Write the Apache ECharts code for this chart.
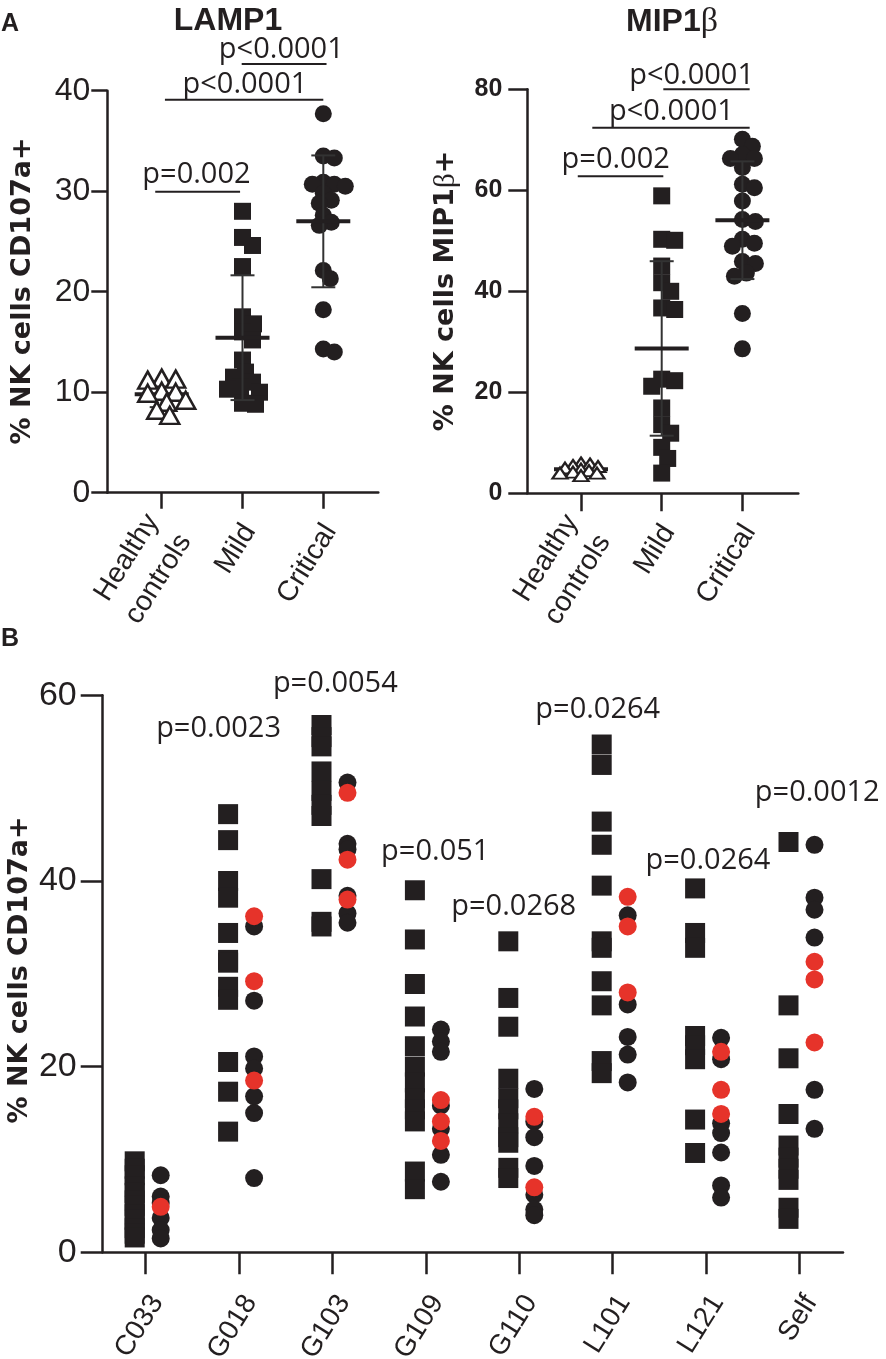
<!DOCTYPE html>
<html>
<head>
<meta charset="utf-8">
<script src="https://cdn.jsdelivr.net/npm/echarts@6.0.0/dist/echarts.min.js"></script>
<style>
html, body { margin: 0; padding: 0; background: #fff; }
#chart { width: 886px; height: 1359px; }
</style>
</head>
<body>
<div id="chart"></div>
<script>
// ---- values ----
var groupsA = ['Healthy\ncontrols', 'Mild', 'Critical'];

var lampHealthy = [11.4, 11.2, 11.3, 10.1, 9.9, 10.0, 9.2, 9.0, 7.7, 8.2];
var lampMild = [28.0, 25.4, 24.6, 22.5, 17.5, 16.8, 16.0, 15.2, 13.2, 12.0, 11.0, 10.3, 10.5, 10.0, 8.8, 8.9, 11.5];
var lampCritical = [37.7, 33.3, 33.5, 30.7, 30.9, 30.5, 30.7, 29.8, 29.1, 28.8, 27.6, 26.6, 26.9, 22.1, 21.3, 18.2, 14.0, 14.3];

var mipHealthy = [5.0, 6.0, 5.8, 5.5, 5.3, 4.8, 4.0, 3.5, 4.2, 4.0, 4.5];
var mipMild = [58.9, 50.3, 50.1, 45.0, 41.7, 40.0, 36.4, 36.7, 21.2, 22.3, 22.6, 16.9, 13.6, 11.9, 9.1, 6.9, 4.0];
var mipCritical = [70.1, 68.7, 67.1, 66.3, 66.3, 64.5, 61.2, 60.5, 57.9, 54.2, 53.8, 50.3, 48.9, 49.5, 45.9, 45.5, 43.0, 43.6, 35.6, 28.6];

// brackets: [from, to, level]
var lampBrackets = [[-0.08, 0.97, 29.95], [0.04, 2.0, 39.1], [0.99, 2.04, 42.65]];
var lampPText = ['p=0.002', 'p<0.0001', 'p<0.0001'];
var lampPAt = [[0.43, 31.6], [1.03, 40.6], [1.48, 44.05]];

var mipBrackets = [[-0.04, 1.02, 62.8], [0.14, 2.09, 72.4], [1.02, 2.09, 80.0]];
var mipPText = ['p=0.002', 'p<0.0001', 'p<0.0001'];
var mipPAt = [[0.43, 66.0], [1.12, 75.5], [1.37, 82.7]];

var bCats = ['C033', 'G018', 'G103', 'G109', 'G110', 'L101', 'L121', 'Self'];
var bSquares = [
	[9.8, 9.0, 8.3, 7.1, 6.4, 5.6, 5.0, 4.1, 3.5, 2.6, 2.0, 1.6],
	[47.2, 44.4, 40.0, 38.2, 34.4, 31.5, 31.2, 28.6, 27.2, 20.5, 17.3, 13.0],
	[56.8, 55.5, 54.5, 51.8, 49.7, 48.2, 47.0, 40.2, 35.6, 35.1],
	[39.0, 33.7, 28.9, 25.4, 22.2, 20.0, 18.3, 16.6, 15.4, 14.1, 8.7, 6.8],
	[33.5, 27.4, 24.3, 18.7, 16.6, 15.4, 13.9, 12.4, 11.8, 9.1, 8.0],
	[54.7, 52.5, 46.4, 43.9, 39.5, 33.5, 32.8, 29.2, 26.6, 20.6, 19.3],
	[39.2, 34.4, 32.8, 23.3, 22.3, 20.8, 14.3, 10.7],
	[44.2, 26.6, 20.9, 14.9, 11.5, 10.2, 9.0, 7.8, 4.8, 3.6]
];
var bBlack = [
	[8.3, 6.0, 5.3, 3.7, 2.4, 1.5],
	[35.1, 27.1, 21.1, 19.8, 16.8, 15.0, 8.0],
	[50.6, 44.0, 43.4, 38.4, 36.5, 35.5],
	[24.0, 22.7, 21.6, 15.8, 13.3, 10.5, 7.6],
	[17.6, 14.1, 12.4, 9.3, 6.2, 4.6, 4.0],
	[36.3, 26.7, 23.2, 21.3, 18.3],
	[23.1, 20.8, 13.9, 12.85, 10.75, 7.2, 5.9],
	[43.9, 38.2, 36.9, 33.9, 17.5, 13.3]
];
var bRed = [
	[4.9],
	[36.2, 29.2, 18.5],
	[49.5, 42.3, 38.0],
	[16.4, 14.1, 12.0],
	[14.6, 7.0],
	[38.3, 35.1, 28.0],
	[21.6, 17.5, 14.9],
	[31.3, 29.4, 22.6]
];
var bPText = ['p=0.0023', 'p=0.0054', 'p=0.051', 'p=0.0268', 'p=0.0264', 'p=0.0264', 'p=0.0012'];
var bPAt = [[0.78, 56.4], [2.03, 61.2], [3.10, 43.2], [3.94, 37.25], [4.84, 58.5], [6.02, 42.2], [7.19, 49.5]];

// ---- layout (pixels) ----
var INK = '#231f20';
var RED = '#e6332a';
var LAMP = {x0: 161.7, dx: 80.8, y0: 492.7, dy: 10.05, left: 107.3, right: 378.3, yMax: 40};
var MIP = {x0: 581, dx: 80.7, y0: 493.3, dy: 5.05, left: 527.3, right: 798.3, yMax: 80};
var PB = {x0: 145.7, dx: 93.4, y0: 1252.3, dy: 9.283, left: 102.7, right: 843, yMax: 60};

function gridOf(p) {
	return {
		left: p.left, top: p.y0 - p.yMax * p.dy,
		width: p.right - p.left, height: p.yMax * p.dy,
		outerBoundsMode: 'none', containLabel: false
	};
}

// a bare category axis laid over the ticks, only there to carry the rotated names
function labelGridOf(p, n, shiftPx) {
	return {
		left: p.x0 - p.dx / 2 + shiftPx, top: p.y0 - 10,
		width: n * p.dx, height: 10,
		outerBoundsMode: 'none', containLabel: false
	};
}

function meanSd(a) {
	var m = a.reduce(function (s, v) { return s + v; }, 0) / a.length;
	var ss = a.reduce(function (s, v) { return s + (v - m) * (v - m); }, 0);
	return [m, Math.sqrt(ss / (a.length - 1))];
}

// simple beeswarm: push each point sideways until it clears the others
function swarm(values, center, w, h, k0, p) {
	var placed = [];
	var sorted = values.slice().sort(function (a, b) { return b - a; });
	return sorted.map(function (v) {
		var yPx = v * p.dy, off = 0;
		for (var k = 0; k < 400; k++) {
			var c = k === 0 ? 0 : (k % 2 ? 1 : -1) * Math.ceil(k / 2);
			var free = placed.every(function (q) {
				return Math.hypot((q[0] - c) / w, (q[1] - yPx) / h) >= k0;
			});
			if (free) { off = c; break; }
		}
		placed.push([off, yPx]);
		return [center + off / p.dx, v];
	});
}

function xAxisOf(p, gi, n, tickLen) {
	var idx = [];
	for (var i = 0; i < n; i++) idx.push(i);
	return {
		type: 'value', gridIndex: gi,
		min: (p.left - p.x0) / p.dx, max: (p.right - p.x0) / p.dx,
		axisLine: {show: true, onZero: false, lineStyle: {color: INK, width: 2.5}},
		axisTick: {show: true, length: tickLen, lineStyle: {color: INK, width: 2.5}, customValues: idx},
		axisLabel: {show: false},
		splitLine: {show: false}
	};
}

function nameAxisOf(gi, names, fontSize, margin, lineH, vAlign) {
	return {
		type: 'category', gridIndex: gi, data: names, position: 'bottom',
		axisLine: {show: false}, axisTick: {show: false}, splitLine: {show: false},
		axisLabel: {
			show: true, interval: 0, rotate: 58, align: 'right', verticalAlign: vAlign,
			margin: margin, color: INK, fontFamily: 'Liberation Sans', fontSize: fontSize, lineHeight: lineH
		}
	};
}

function yAxisOf(p, gi, step, fontSize, weight, margin, tickLen) {
	return {
		type: 'value', gridIndex: gi, min: 0, max: p.yMax, interval: step,
		axisLine: {show: true, onZero: false, lineStyle: {color: INK, width: 2.5}},
		axisTick: {show: true, length: tickLen, lineStyle: {color: INK, width: 2.5}},
		axisLabel: {
			showMinLabel: true, showMaxLabel: true, margin: margin, color: INK,
			fontFamily: 'Liberation Sans', fontSize: fontSize, fontWeight: weight
		},
		splitLine: {show: false}
	};
}

function hiddenY(gi) {
	return {type: 'value', gridIndex: gi, show: false, min: 0, max: 1};
}

function errorBars(groups, gi) {
	return {
		type: 'custom', xAxisIndex: gi, yAxisIndex: gi, z: 3, silent: true,
		renderItem: function (params, api) {
			var x = api.value(0), m = api.value(1), s = api.value(2);
			var c = api.coord([x, m]), hi = api.coord([x, m + s]), lo = api.coord([x, m - s]);
			var thin = {stroke: '#333', lineWidth: 2};
			return {
				type: 'group', children: [
					{type: 'line', shape: {x1: c[0], y1: hi[1], x2: c[0], y2: lo[1]}, style: thin},
					{type: 'line', shape: {x1: c[0] - 12, y1: hi[1], x2: c[0] + 12, y2: hi[1]}, style: thin},
					{type: 'line', shape: {x1: c[0] - 12, y1: lo[1], x2: c[0] + 12, y2: lo[1]}, style: thin},
					{type: 'line', shape: {x1: c[0] - 27, y1: c[1], x2: c[0] + 27, y2: c[1]}, style: {stroke: INK, lineWidth: 4}}
				]
			};
		},
		data: groups.map(function (g, i) { var r = meanSd(g); return [i, r[0], r[1]]; })
	};
}

function dots(data, gi, symbol, size, style, z) {
	style.opacity = 1;
	return {
		type: 'scatter', xAxisIndex: gi, yAxisIndex: gi, symbol: symbol, symbolSize: size,
		data: data, itemStyle: style, z: z, silent: true, clip: false
	};
}

function brackets(list, gi) {
	return list.map(function (b) {
		return {
			type: 'line', xAxisIndex: gi, yAxisIndex: gi, data: [[b[0], b[2]], [b[1], b[2]]],
			symbol: 'none', showSymbol: false, clip: false, silent: true, z: 5,
			lineStyle: {color: INK, width: 2}
		};
	});
}

function pLabels(texts, at, gi) {
	return {
		type: 'scatter', xAxisIndex: gi, yAxisIndex: gi, symbolSize: 0, clip: false, silent: true, z: 6,
		itemStyle: {opacity: 1},
		label: {show: true, position: 'inside', formatter: '{b}', color: INK, opacity: 1, fontFamily: 'Open Sans', fontSize: 29},
		data: texts.map(function (t, i) { return {name: t, value: at[i]}; })
	};
}

function black() { return {color: INK}; }
function openTri(bw) { return {color: '#fff', borderColor: INK, borderWidth: bw}; }

var series = [];
// LAMP1
series.push(errorBars([lampHealthy, lampMild, lampCritical], 0));
series.push(dots(swarm(lampHealthy, 0, 19, 17, 0.7, LAMP), 0, 'triangle', [19, 17], openTri(2.5), 4));
series.push(dots(swarm(lampMild, 1, 17, 17, 0.72, LAMP), 0, 'rect', 17, black(), 2));
series.push(dots(swarm(lampCritical, 2, 17, 17, 0.62, LAMP), 0, 'circle', 17, black(), 2));
series = series.concat(brackets(lampBrackets, 0));
series.push(pLabels(lampPText, lampPAt, 0));
// MIP1b
series.push(errorBars([mipHealthy, mipMild, mipCritical], 1));
series.push(dots(swarm(mipHealthy, 0, 15, 11, 0.55, MIP), 1, 'triangle', [15, 11], openTri(2.2), 4));
series.push(dots(swarm(mipMild, 1, 17, 17, 0.72, MIP), 1, 'rect', 17, black(), 2));
series.push(dots(swarm(mipCritical, 2, 17, 17, 0.72, MIP), 1, 'circle', 17, black(), 2));
series = series.concat(brackets(mipBrackets, 1));
series.push(pLabels(mipPText, mipPAt, 1));
// panel B: squares left of the tick, circles right of it
var sqShift = -11 / PB.dx, dotShift = 15 / PB.dx;
var bSq = [], bBk = [], bRd = [];
bCats.forEach(function (c, i) {
	bSquares[i].forEach(function (v) { bSq.push([i + sqShift, v]); });
	bBlack[i].forEach(function (v) { bBk.push([i + dotShift, v]); });
	bRed[i].forEach(function (v) { bRd.push([i + dotShift, v]); });
});
series.push(dots(bSq, 2, 'rect', 20, black(), 2));
series.push(dots(bBk, 2, 'circle', 18, black(), 3));
series.push(dots(bRd, 2, 'circle', 18, {color: RED}, 4));
series.push(pLabels(bPText, bPAt, 2));

function label(text, x, y, font, rot) {
	return {
		type: 'text', x: x, y: y, rotation: rot || 0, silent: true,
		style: {text: text, font: font, fill: INK, align: 'center', verticalAlign: 'middle'}
	};
}
function richLabel(text, x, y, size, rot) {
	return {
		type: 'text', x: x, y: y, rotation: rot || 0, silent: true,
		style: {
			text: text, fill: INK, align: 'center', verticalAlign: 'middle',
			rich: {
				b: {fontFamily: 'DejaVu Sans', fontWeight: 'bold', fontSize: size, fill: INK},
				t: {fontFamily: 'Liberation Sans', fontWeight: 'bold', fontSize: size, fill: INK},
				g: {fontFamily: 'Liberation Serif', fontSize: size + 2, fill: INK}
			}
		}
	};
}

var myChart = echarts.init(document.getElementById('chart'), null, {renderer: 'canvas'});
myChart.setOption({
	backgroundColor: '#fff',
	animation: false,
	grid: [
		gridOf(LAMP), gridOf(MIP), gridOf(PB),
		labelGridOf(LAMP, 3, 7), labelGridOf(MIP, 3, 7), labelGridOf(PB, 8, -2)
	],
	xAxis: [
		xAxisOf(LAMP, 0, 3, 16),
		xAxisOf(MIP, 1, 3, 18),
		xAxisOf(PB, 2, 8, 22),
		nameAxisOf(3, groupsA, 28.5, 34, 38, 'middle'),
		nameAxisOf(4, groupsA, 28.5, 34, 38, 'middle'),
		nameAxisOf(5, bCats, 28, 37, 32, 'top')
	],
	yAxis: [
		yAxisOf(LAMP, 0, 10, 32, 'normal', 17, 16),
		yAxisOf(MIP, 1, 20, 25, 'bold', 25, 19),
		yAxisOf(PB, 2, 20, 34, 'normal', 26, 22),
		hiddenY(3), hiddenY(4), hiddenY(5)
	],
	series: series,
	graphic: [
		label('A', 10, 24, 'bold 25px "Liberation Sans"'),
		label('B', 10, 639, 'bold 25px "Liberation Sans"'),
		label('LAMP1', 228, 21, 'bold 32px "Liberation Sans"'),
		richLabel('{t|MIP1}{g|β}', 672, 22, 32),
		label('% NK cells CD107a+', 22.5, 291, 'bold 27px "DejaVu Sans"', Math.PI / 2),
		richLabel('{b|% NK cells MIP1}{g|β}{b|+}', 446, 291, 27, Math.PI / 2),
		label('% NK cells CD107a+', 20, 970, 'bold 27px "DejaVu Sans"', Math.PI / 2)
	]
});
</script>
</body>
</html>
